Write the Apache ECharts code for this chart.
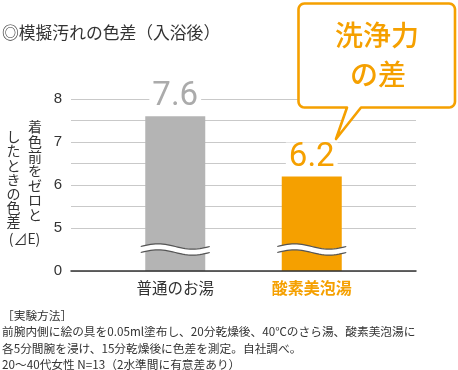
<!DOCTYPE html>
<html><head><meta charset="utf-8">
<script src="https://cdn.jsdelivr.net/npm/echarts@6/dist/echarts.min.js"></script>
<style>html,body{margin:0;padding:0;background:#fff}#c{width:458px;height:370px}</style>
</head><body><div id="c"></div>
<script>
const categories = ['普通のお湯', '酸素美泡湯'];
const values = [7.6, 6.2];
const tickLabels = ['0', '', '5', '', '6', '', '7', '', '8'];
const axisMin = 4, axisMax = 8, axisStep = 0.5, breakValue = 4.5;
const titleText = '◎模擬汚れの色差（入浴後）';
const yNameRight = '着色前をゼロと';
const yNameLeft = 'したときの色差';
const yNameUnit = '(⊿E)';
const bubbleLines = ['洗浄力', 'の差'];
const notes = [
  '［実験方法］',
  '前腕内側に絵の具を0.05ml塗布し、20分乾燥後、40℃のさら湯、酸素美泡湯に',
  '各5分間腕を浸け、15分乾燥後に色差を測定。自社調べ。',
  '20～40代女性 N=13（2水準間に有意差あり）'
];

const JP = '"Noto Sans CJK JP", "Noto Sans", sans-serif';
const ORANGE = '#f5a000';
const barColors = ['#b4b4b4', ORANGE];
const labelColors = ['#ababab', ORANGE];

const chart = echarts.init(document.getElementById('c'), null, {renderer: 'canvas'});

const gridTop = 99, gridBottom = 99;
const splitColors = tickLabels.map((t, i) => i === 1 ? 'rgba(0,0,0,0)' : '#c9c9c9');

const option = {
  animation: false,
  backgroundColor: '#fff',
  grid: [
    {left: 71, right: 42, top: gridTop, bottom: gridBottom},
    {left: 107, width: 273, top: gridTop, bottom: gridBottom}
  ],
  xAxis: [
    {gridIndex: 0, type: 'category', data: categories,
     axisLine: {show: true, lineStyle: {color: '#333', width: 1.5}},
     axisTick: {show: false}, axisLabel: {show: false}, splitLine: {show: false}, z: 10},
    {gridIndex: 1, type: 'category', data: categories,
     axisLine: {show: false}, axisTick: {show: false},
     axisLabel: {
       margin: 9,
       formatter: (v, i) => i === 1 ? '{b|' + v + '}' : '{a|' + v + '}',
       rich: {
         a: {fontFamily: JP, fontSize: 15.5, color: '#333'},
         b: {fontFamily: JP, fontSize: 16, color: ORANGE, fontWeight: 'bold'}
       }
     }}
  ],
  yAxis: [
    {gridIndex: 0, type: 'value', min: axisMin, max: axisMax, interval: axisStep,
     axisLine: {show: false}, axisTick: {show: false},
     axisLabel: {margin: 9, fontFamily: '"Liberation Sans", Arial, sans-serif', fontSize: 15, color: '#333',
       formatter: v => tickLabels[Math.round((v - axisMin) / axisStep)] || ''},
     splitLine: {show: true, lineStyle: {color: splitColors, width: 1.2}}},
    {gridIndex: 1, type: 'value', min: axisMin, max: axisMax, interval: axisStep,
     show: false, splitLine: {show: false}}
  ],
  series: [{
    type: 'bar', xAxisIndex: 1, yAxisIndex: 1, barWidth: 60,
    data: values.map((v, i) => ({value: v, itemStyle: {color: barColors[i]}, label: {color: labelColors[i]}})),
    label: {show: true, position: 'top', distance: 4, formatter: '{c}',
      fontFamily: 'Roboto, "Noto Sans", sans-serif', fontSize: 33, fontWeight: 'normal',
      backgroundColor: '#fff', padding: [0, 3, 0, 3], lineHeight: 30},
    z: 5
  }]
};
chart.setOption(option);

function wave(cx, cy) {
  const hw = 34.5, A = 2.6, gap = 3, n = 28;
  const top = [], bot = [];
  for (let k = 0; k <= n; k++) {
    const t = k / n;
    const x = cx - hw + 2 * hw * t;
    const dy = -A * Math.sin(2 * Math.PI * t);
    top.push([x, cy - gap + dy]);
    bot.push([x, cy + gap + dy]);
  }
  return [
    {type: 'polygon', shape: {points: top.concat(bot.slice().reverse())}, style: {fill: '#fff'}, z: 20},
    {type: 'polyline', shape: {points: top}, style: {stroke: '#555', lineWidth: 1.2, fill: null}, z: 21},
    {type: 'polyline', shape: {points: bot}, style: {stroke: '#555', lineWidth: 1.2, fill: null}, z: 21}
  ];
}

const g = [];
categories.forEach((c, i) => {
  const p = chart.convertToPixel({gridIndex: 1}, [i, breakValue]);
  g.push(...wave(p[0], p[1]));
});

function txt(x, y, s, size, opts) {
  return Object.assign({type: 'text', x: x, y: y, z: 30,
    style: Object.assign({text: s, fontFamily: JP, fontSize: size, fill: '#333', align: 'left', verticalAlign: 'middle'}, opts || {})});
}

// title
g.push(txt(2, 32.5, titleText, 16.8));

// y axis name (vertical columns)
yNameRight.split('').forEach((ch, k) => g.push(txt(35, 127 + k * 14.6, ch, 14, {align: 'center'})));
yNameLeft.split('').forEach((ch, k) => g.push(txt(13.5, 137 + k * 14.1, ch, 14, {align: 'center'})));
g.push(txt(24.5, 238.5, yNameUnit, 14, {align: 'center'}));

// bubble (rounded rect + tail) as polygon
const L = 298.5, R = 455, T = 3.5, B = 107.5, r = 6;
const tl = 347, tr = 361, tipX = 336, tipY = 139;
function arc(cx, cy, a0, a1) {
  const pts = [];
  for (let k = 0; k <= 6; k++) {
    const a = a0 + (a1 - a0) * k / 6;
    pts.push([cx + r * Math.cos(a), cy + r * Math.sin(a)]);
  }
  return pts;
}
const PI = Math.PI;
const bubblePts = [].concat(
  arc(L + r, T + r, PI, 1.5 * PI),
  arc(R - r, T + r, 1.5 * PI, 2 * PI),
  arc(R - r, B - r, 0, 0.5 * PI),
  [[tr, B], [tipX, tipY], [tl, B]],
  arc(L + r, B - r, 0.5 * PI, PI)
);
g.push({type: 'polygon', shape: {points: bubblePts}, style: {fill: '#fff', stroke: ORANGE, lineWidth: 2.6, lineJoin: 'round'}, z: 40});
const b1 = txt(377, 35.5, bubbleLines[0], 28, {fill: ORANGE, align: 'center', fontWeight: 500, letterSpacing: 6});
const b2 = txt(378, 74, bubbleLines[1], 28, {fill: ORANGE, align: 'center', fontWeight: 500, letterSpacing: 6});
b1.z = 41; b2.z = 41;
g.push(b1, b2);

// notes
const noteY = [315.5, 332, 349, 364.5];
notes.forEach((t, i) => g.push(txt(2, noteY[i], t, 11.7)));

chart.setOption({graphic: {elements: g}});
</script></body></html>
